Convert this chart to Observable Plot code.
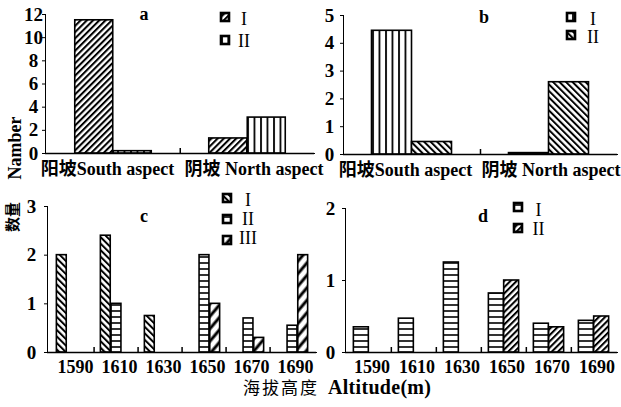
<!DOCTYPE html>
<html><head><meta charset="utf-8">
<script src="https://cdn.jsdelivr.net/npm/d3@7"></script>
<script src="https://cdn.jsdelivr.net/npm/@observablehq/plot@0.6"></script>
<style>
body{margin:0;background:#fff}
#fig{position:relative;width:621px;height:407px;background:#fff;overflow:hidden}
</style></head><body>
<svg width="0" height="0" style="position:absolute">
<defs>
 <pattern id="slash" patternUnits="userSpaceOnUse" width="4.4" height="4.4" patternTransform="rotate(45)">
   <rect width="4.4" height="4.4" fill="#fff"/><line x1="1" y1="0" x2="1" y2="4.4" stroke="#000" stroke-width="2.1"/>
 </pattern>
 <pattern id="slashWide" patternUnits="userSpaceOnUse" width="8" height="8" patternTransform="rotate(40)">
   <rect width="8" height="8" fill="#fff"/><line x1="2" y1="0" x2="2" y2="8" stroke="#000" stroke-width="3"/>
 </pattern>
 <pattern id="back" patternUnits="userSpaceOnUse" width="4.6" height="4.6" patternTransform="rotate(-45)">
   <rect width="4.6" height="4.6" fill="#fff"/><line x1="1" y1="0" x2="1" y2="4.6" stroke="#000" stroke-width="2"/>
 </pattern>
 <pattern id="vert" patternUnits="userSpaceOnUse" width="6.5" height="6.5">
   <rect width="6.5" height="6.5" fill="#fff"/><line x1="1" y1="0" x2="1" y2="6.5" stroke="#000" stroke-width="1.8"/>
 </pattern>
 <pattern id="horiz" patternUnits="userSpaceOnUse" width="6" height="6">
   <rect width="6" height="6" fill="#fff"/><line x1="0" y1="1" x2="6" y2="1" stroke="#000" stroke-width="1.6"/>
 </pattern>
</defs></svg>
<div id="fig"></div>
<script>
// ---------- data ----------
const slopeCats = ["阳坡South aspect", "阴坡 North aspect"];
const altitudes = ["1590", "1610", "1630", "1650", "1670", "1690"];

// panel a
const aSeries = ["I", "II"];
const aI = [11.5, 1.3];
const aII = [0.2, 3.1];
const aTicks = [0, 2, 4, 6, 8, 10, 12];

// panel b
const bSeries = ["I", "II"];
const bI = [4.45, 0.05];
const bII = [0.45, 2.6];
const bTicks = [0, 1, 2, 3, 4, 5];

// panel c
const cSeries = ["I", "II", "III"];
const cI = [2, 2.4, 0.75, 0, 0, 0];
const cII = [0, 1, 0, 2, 0.7, 0.55];
const cIII = [0, 0, 0, 1, 0.3, 2];
const cTicks = [0, 1, 2, 3];

// panel d
const dSeries = ["I", "II"];
const dI = [0.35, 0.47, 1.25, 0.82, 0.4, 0.44];
const dII = [0, 0, 0, 1.0, 0.35, 0.5];
const dTicks = [0, 1, 2];

const panelLetters = ["a", "b", "c", "d"];
const yTitleEn = "Namber";
const yTitleZh = "数量";
const xTitleZh = "海拔高度";
const xTitleEn = "Altitude(m)";

// ---------- drawing ----------
const serif = '"Liberation Serif","Noto Sans CJK SC",serif';
const fig = document.getElementById("fig");

function panel(cfg) {
  const {cats, values, patterns, yTicks, left, top, width, height, mt, mb, ml, mr, barW, labelDx, xPad, shifts} = cfg;
  const yMax = yTicks[yTicks.length - 1];
  const bw = (width - ml - mr) / cats.length;
  const n = values.length;
  const pad = (bw - n * barW) / 2;
  const plotH = height - mt - mb;
  const marks = [];
  values.forEach((vals, k) => {
    const rows = cats.map((c, i) => ({cat: c, value: vals[i]})).filter(d => d.value > 0);
    marks.push(Plot.barY(rows, {
      x: "cat", y: "value", fill: `url(#${patterns[k]})`, stroke: "#000", strokeWidth: 1.6,
      insetLeft: pad + k * barW, insetRight: bw - pad - (k + 1) * barW
    }));
  });
  marks.push(Plot.ruleX(cats.slice(1), {x: d => d, y1: 0, y2: yMax * 5 / plotH, dx: -bw / 2, stroke: "#000", strokeWidth: 1.5}));
  marks.push(Plot.ruleY([0], {stroke: "#000", strokeWidth: 1.6}));
  marks.push(Plot.text(yTicks, {y: d => d, text: d => String(d), frameAnchor: "left", dx: labelDx, textAnchor: "middle", fontSize: 19, fontWeight: "bold"}));
  cats.forEach((c, i) => {
    marks.push(Plot.text([c], {x: d => d, text: d => d, frameAnchor: "bottom", lineAnchor: "top",
      dy: xPad, dx: shifts[i], fontSize: 18, fontWeight: "bold"}));
  });
  const svg = Plot.plot({
    width, height, marginTop: mt, marginBottom: mb, marginLeft: ml, marginRight: mr,
    x: {domain: cats, padding: 0, tickSize: 0, tickFormat: () => "", line: true, label: null},
    y: {domain: [0, yMax], ticks: yTicks, tickSize: 3, tickFormat: () => "", line: true, label: null},
    style: {fontFamily: serif, fontSize: "18px", fontWeight: "bold", background: "transparent", overflow: "visible", color: "#000"},
    marks
  });
  svg.style.position = "absolute";
  svg.style.left = left + "px";
  svg.style.top = top + "px";
  svg.style.maxWidth = "none";
  fig.appendChild(svg);
}

panel({cats: slopeCats, values: [aI, aII], patterns: ["slash", "vert"], yTicks: aTicks,
  left: 0, top: 0, width: 330, height: 190, mt: 14, mb: 37, ml: 45, mr: 16, barW: 38.5, labelDx: -12, xPad: 9, shifts: [-6, 6.5]});
panel({cats: slopeCats, values: [bI, bII], patterns: ["vert", "back"], yTicks: bTicks,
  left: 320, top: 0, width: 301, height: 190, mt: 15, mb: 36, ml: 23, mr: 4, barW: 40, labelDx: -14, xPad: 9, shifts: [-6.5, 2]});
panel({cats: altitudes, values: [cI, cII, cIII], patterns: ["back", "horiz", "slashWide"], yTicks: cTicks,
  left: 0, top: 190, width: 330, height: 217, mt: 16, mb: 55, ml: 47, mr: 14, barW: 10.7, labelDx: -16, xPad: 8, shifts: [3, 3, 3, 3, 3, 3]});
panel({cats: altitudes, values: [dI, dII], patterns: ["horiz", "slash"], yTicks: dTicks,
  left: 320, top: 190, width: 301, height: 217, mt: 18, mb: 55, ml: 25, mr: 4, barW: 15.3, labelDx: -15, xPad: 8, shifts: [3, 3, 3, 3, 3, 3]});

// ---------- annotations (letters, legends, titles) ----------
const ov = d3.select(fig).append("svg")
  .attr("width", 621).attr("height", 407)
  .style("position", "absolute").style("left", "0px").style("top", "0px")
  .style("font-family", serif).style("font-weight", "bold");

const letterPos = [[144, 20], [484, 23], [144, 222], [483, 222]];
panelLetters.forEach((t, i) => ov.append("text").attr("x", letterPos[i][0]).attr("y", letterPos[i][1])
  .attr("text-anchor", "middle").attr("font-size", 18).text(t));

function legend(series, patterns, sx, tops, tx, bases) {
  series.forEach((s, i) => {
    ov.append("rect").attr("x", sx).attr("y", tops[i]).attr("width", 8).attr("height", 8)
      .attr("fill", `url(#${patterns[i]})`).attr("stroke", "#000").attr("stroke-width", 2.6);
    ov.append("text").attr("x", tx).attr("y", bases[i]).attr("text-anchor", "middle")
      .attr("font-size", 18).style("font-weight", "normal").text(s);
  });
}
legend(aSeries, ["slash", "vert"], 221, [13, 36], 244, [25, 47]);
legend(bSeries, ["vert", "back"], 567, [13, 31], 593, [25, 43]);
legend(cSeries, ["back", "horiz", "slashWide"], 223, [194, 215, 236], 248, [206, 225, 244]);
legend(dSeries, ["horiz", "slash"], 514, [203, 224], 538.5, [216, 235]);

ov.append("text").attr("transform", "translate(15,148) rotate(-90)").attr("dy", "0.35em")
  .attr("text-anchor", "middle").attr("font-size", 18).text(yTitleEn);
ov.append("text").attr("transform", "translate(13,217) rotate(-90)").attr("dy", "0.35em")
  .attr("text-anchor", "middle").attr("font-size", 15)
  .style("font-family", '"Noto Sans CJK SC"').text(yTitleZh);
ov.append("text").attr("x", 243).attr("y", 394).attr("font-size", 17).style("letter-spacing", "2px")
  .style("font-family", '"Noto Sans CJK SC"').style("font-weight", "normal").text(xTitleZh);
ov.append("text").attr("x", 328).attr("y", 394).attr("font-size", 20).style("letter-spacing", "0.3px").text(xTitleEn);
</script>
</body></html>
